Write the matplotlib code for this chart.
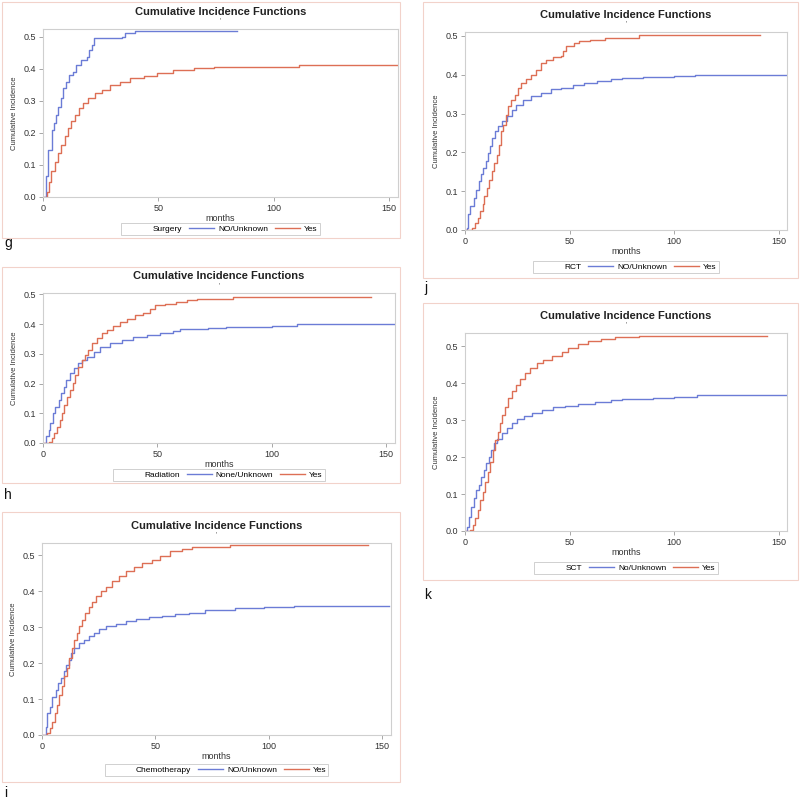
import matplotlib
matplotlib.use('Agg')
import matplotlib.pyplot as plt
from matplotlib.lines import Line2D
from matplotlib.patches import Rectangle

plt.rcParams['font.family'] = ['Liberation Sans', 'DejaVu Sans']

# g - Surgery
g_no_m = [0, 1.2, 2.0, 3.8, 4.7, 5.5, 6.5, 7.6, 8.7, 9.9, 11.3, 12.8, 14.2, 16.7, 18.9, 20.0, 21.1, 22.2, 34.1, 35.6, 39.9, 84.2]
g_no_v = [0, 0.064, 0.147, 0.21, 0.23, 0.256, 0.282, 0.31, 0.34, 0.36, 0.381, 0.391, 0.412, 0.428, 0.438, 0.459, 0.474, 0.495, 0.50, 0.511, 0.518, 0.518]
g_yes_m = [0, 1.8, 2.6, 3.6, 5.1, 6.5, 8.0, 9.4, 10.9, 12.3, 13.8, 15.7, 17.4, 19.6, 22.5, 25.4, 29.0, 33.4, 37.8, 43.6, 49.4, 56.6, 65.3, 74, 82.7, 111, 155]
g_yes_v = [0, 0.017, 0.048, 0.08, 0.11, 0.137, 0.163, 0.189, 0.215, 0.236, 0.257, 0.277, 0.293, 0.309, 0.324, 0.334, 0.35, 0.36, 0.371, 0.376, 0.386, 0.395, 0.402, 0.404, 0.407, 0.411, 0.411]

# j - RCT
j_no_m = [0, 1.0, 1.4, 2.5, 4.1, 5.2, 6.5, 7.7, 8.8, 9.9, 10.9, 12.0, 13.1, 14.4, 15.9, 17.8, 19.9, 22.3, 24.6, 27.8, 31.7, 36.5, 41.2, 46.0, 51.5, 57.0, 63.3, 69.6, 75, 85, 100, 110, 154]
j_no_v = [0, 0.005, 0.04, 0.061, 0.083, 0.104, 0.125, 0.143, 0.16, 0.177, 0.199, 0.216, 0.237, 0.254, 0.267, 0.28, 0.293, 0.31, 0.323, 0.336, 0.344, 0.353, 0.362, 0.366, 0.373, 0.379, 0.383, 0.389, 0.392, 0.395, 0.397, 0.40, 0.40]
j_yes_m = [0, 3.3, 4.9, 6.2, 7.3, 8.4, 9.3, 10.4, 11.5, 12.8, 13.9, 15.2, 16.3, 17.2, 18.3, 19.4, 20.7, 22.0, 23.8, 25.4, 27.0, 29.4, 31.7, 34.1, 36.2, 38.8, 42.0, 45.9, 46.7, 48.3, 52.3, 54.6, 60, 67, 83, 141.3]
j_yes_v = [0, 0.005, 0.018, 0.031, 0.048, 0.066, 0.087, 0.108, 0.13, 0.151, 0.173, 0.194, 0.22, 0.254, 0.271, 0.297, 0.319, 0.336, 0.349, 0.366, 0.379, 0.388, 0.40, 0.413, 0.43, 0.439, 0.445, 0.448, 0.46, 0.473, 0.482, 0.486, 0.49, 0.495, 0.502, 0.502]

# h - Radiation
h_no_m = [0, 1.4, 2.5, 3.2, 4.3, 5.4, 6.8, 7.8, 9.0, 10.2, 11.9, 13.4, 15.1, 17.0, 19.2, 22.1, 25.0, 29.3, 34.4, 39.5, 45.3, 51.2, 57.0, 60, 72, 80, 100, 111, 154]
h_no_v = [0, 0.022, 0.044, 0.067, 0.10, 0.122, 0.145, 0.167, 0.19, 0.212, 0.234, 0.251, 0.268, 0.279, 0.29, 0.307, 0.323, 0.335, 0.346, 0.357, 0.362, 0.37, 0.377, 0.383, 0.386, 0.39, 0.395, 0.40, 0.40]
h_yes_m = [0, 2.5, 4.0, 4.9, 6.1, 7.3, 8.3, 9.3, 10.5, 11.6, 13.1, 14.1, 15.5, 17.0, 18.5, 19.9, 21.4, 23.5, 25.7, 27.9, 30.8, 33.7, 36.6, 40.3, 43.9, 46.8, 49.0, 53.3, 58.4, 62.8, 67.2, 83, 143.4]
h_yes_v = [0, 0.005, 0.016, 0.033, 0.055, 0.078, 0.10, 0.128, 0.156, 0.178, 0.201, 0.229, 0.257, 0.279, 0.296, 0.312, 0.335, 0.352, 0.371, 0.382, 0.393, 0.408, 0.418, 0.43, 0.437, 0.452, 0.463, 0.468, 0.474, 0.48, 0.485, 0.49, 0.49]

# k - SCT
k_no_m = [0, 0.95, 2.1, 3.0, 4.1, 5.2, 6.5, 7.8, 8.9, 10.0, 11.3, 12.5, 13.7, 15.2, 17.6, 20.0, 22.4, 24.8, 28.0, 31.9, 36.7, 42.2, 47.8, 54.1, 62.1, 70.0, 75, 90, 100, 111, 154]
k_no_v = [0, 0.011, 0.038, 0.065, 0.088, 0.11, 0.124, 0.147, 0.165, 0.183, 0.201, 0.219, 0.237, 0.25, 0.264, 0.278, 0.292, 0.303, 0.312, 0.319, 0.328, 0.335, 0.339, 0.344, 0.35, 0.354, 0.357, 0.36, 0.363, 0.367, 0.367]
k_yes_m = [0, 2.5, 3.6, 4.9, 6.2, 7.3, 8.4, 9.7, 11.0, 12.1, 13.2, 14.5, 15.7, 16.8, 17.9, 19.2, 20.8, 22.4, 24.3, 26.3, 28.7, 31.1, 34.3, 37.5, 41.4, 46.2, 49.4, 54.1, 58.9, 65.2, 71.6, 83, 144.4]
k_yes_v = [0, 0.002, 0.015, 0.034, 0.056, 0.083, 0.106, 0.133, 0.16, 0.188, 0.22, 0.246, 0.269, 0.292, 0.314, 0.337, 0.36, 0.378, 0.396, 0.411, 0.427, 0.441, 0.455, 0.464, 0.475, 0.484, 0.496, 0.505, 0.514, 0.52, 0.525, 0.528, 0.528]

# i - Chemotherapy
i_no_m = [0, 1.6, 2.2, 3.4, 4.5, 6.0, 7.0, 8.5, 9.5, 10.7, 11.8, 12.9, 14.3, 16.5, 18.7, 20.9, 23.1, 25.2, 28.2, 32.5, 36.9, 41.3, 47.1, 53.0, 58.8, 65, 72, 85, 98, 111, 153]
i_no_v = [0, 0.023, 0.06, 0.079, 0.107, 0.125, 0.144, 0.158, 0.177, 0.195, 0.209, 0.228, 0.242, 0.256, 0.265, 0.274, 0.283, 0.294, 0.302, 0.309, 0.316, 0.322, 0.327, 0.331, 0.337, 0.34, 0.348, 0.352, 0.355, 0.36, 0.36]
i_yes_m = [0, 2.2, 3.4, 4.5, 5.6, 6.6, 7.7, 8.9, 9.9, 11.0, 12.1, 13.3, 14.3, 15.3, 16.5, 17.7, 19.1, 20.6, 22.0, 23.8, 26.0, 28.2, 31.1, 34.0, 36.9, 40.6, 44.2, 48.6, 52.2, 56.6, 61.7, 66.1, 83, 143.8]
i_yes_v = [0, 0.005, 0.019, 0.037, 0.06, 0.084, 0.112, 0.135, 0.163, 0.186, 0.214, 0.242, 0.265, 0.283, 0.302, 0.32, 0.339, 0.357, 0.371, 0.386, 0.40, 0.413, 0.427, 0.441, 0.455, 0.467, 0.477, 0.488, 0.499, 0.511, 0.518, 0.523, 0.528, 0.528]

panels = [
    # letter, group, no label, no m, no v, yes m, yes v, axes box (l, r, t, b px), frame (l, r, t, b px), ymax, letter pos, legend y
    ('g', 'Surgery', 'NO/Unknown', g_no_m, g_no_v, g_yes_m, g_yes_v, (43, 398, 29, 197), (2, 400, 2, 238), 0.524, (4, 247), 229),
    ('h', 'Radiation', 'None/Unknown', h_no_m, h_no_v, h_yes_m, h_yes_v, (43, 395, 293, 443), (2, 400, 267, 483), 0.505, (4, 499), 475),
    ('i', 'Chemotherapy', 'NO/Unknown', i_no_m, i_no_v, i_yes_m, i_yes_v, (42, 391, 543, 735), (2, 400, 512, 782), 0.534, (4, 797), 770),
    ('j', 'RCT', 'NO/Unknown', j_no_m, j_no_v, j_yes_m, j_yes_v, (465, 787, 32, 230), (423, 798, 2, 278), 0.51, (424, 292), 267),
    ('k', 'SCT', 'No/Unknown', k_no_m, k_no_v, k_yes_m, k_yes_v, (465, 787, 333, 531), (423, 798, 303, 580), 0.536, (424, 599), 568),
]

W, H = 800, 806
BLUE = '#6b7cd6'
RED = '#dd6f55'
SPINE = '#cfcfcf'
FRAME = '#f2d2ca'

fig = plt.figure(figsize=(W / 100, H / 100), dpi=100)

for (letter, group, nolab, nm, nv, ym, yv, box, frame, ymax, lpos, legy) in panels:
    l, r, t, b = box
    ax = fig.add_axes([l / W, 1 - b / H, (r - l) / W, (b - t) / H])
    ax.step(nm, nv, where='post', color=BLUE, lw=1.0)
    ax.step(ym, yv, where='post', color=RED, lw=1.0)
    ax.set_xlim(0, 154)
    ax.set_ylim(0, ymax)
    ax.set_xticks([0, 50, 100, 150])
    ax.set_yticks([0, 0.1, 0.2, 0.3, 0.4, 0.5])
    ax.set_yticklabels(['0.0', '0.1', '0.2', '0.3', '0.4', '0.5'])
    ax.tick_params(labelsize=6.5, length=3, width=0.6, color='#999999', labelcolor='#333333', pad=2)
    for s in ax.spines.values():
        s.set_color(SPINE)
        s.set_linewidth(0.8)
    ax.set_xlabel('months', fontsize=6.5, color='#333333', labelpad=1)
    ax.set_ylabel('Cumulative Incidence', fontsize=5.5, color='#333333', labelpad=4,
                  fontstretch='condensed')
    ax.set_title('Cumulative Incidence Functions', fontsize=8, fontweight='bold',
                 color='#222222', pad=10)
    ax.text(0.5, 1.025, "'", transform=ax.transAxes, ha='center', va='bottom', fontsize=5, color='#444444')

    # legend
    handles = [Line2D([], [], color='none'),
               Line2D([], [], color=BLUE, lw=1.0),
               Line2D([], [], color=RED, lw=1.0)]
    leg = ax.legend(handles, [group, nolab, 'Yes'], ncol=3, loc='center',
                    bbox_to_anchor=((l + r) / 2 / W, 1 - legy / H),
                    bbox_transform=fig.transFigure, fontsize=6, frameon=True,
                    fancybox=False, handlelength=3.0, handletextpad=0.5,
                    columnspacing=0.8, borderpad=0.25)
    leg.get_frame().set_edgecolor('#bbbbbb')
    leg.get_frame().set_linewidth(0.6)

    fl, fr, ft, fb = frame
    fig.add_artist(Rectangle((fl / W, 1 - fb / H), (fr - fl) / W, (fb - ft) / H,
                             transform=fig.transFigure, fill=False, edgecolor=FRAME, lw=0.8))
    fig.text(lpos[0] / W, 1 - lpos[1] / H, letter, fontsize=10, color='#111111',
             ha='left', va='baseline')

plt.savefig('out.png', dpi=100)
